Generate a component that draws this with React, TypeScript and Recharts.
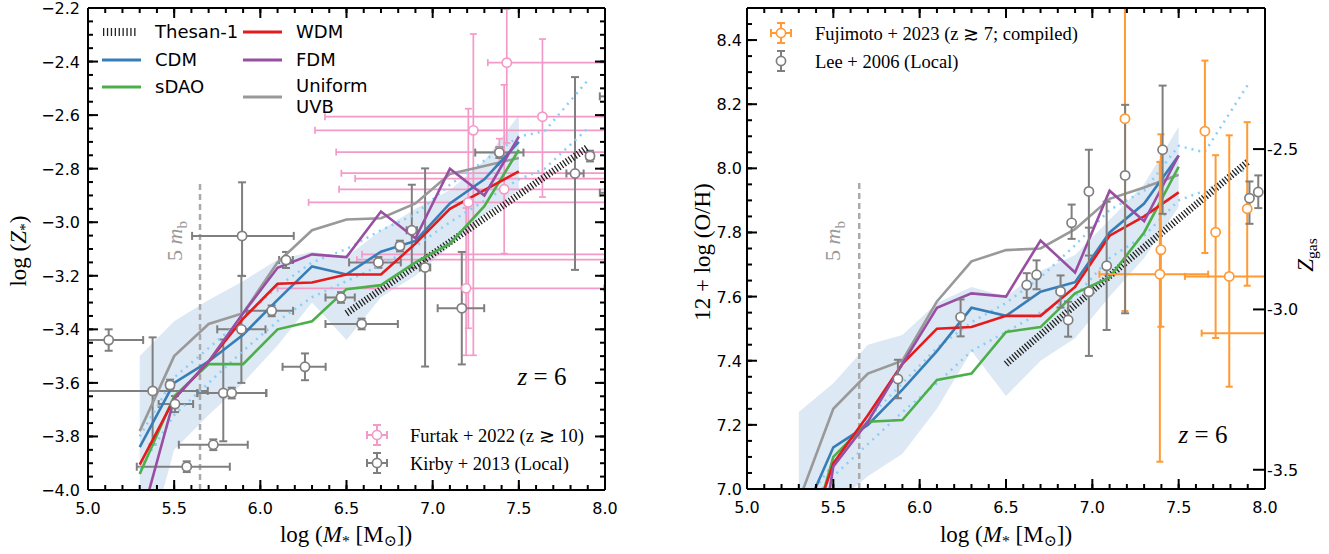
import React from 'react';
import { ComposedChart, Line, Area, Scatter, ErrorBar, XAxis, YAxis, ReferenceLine } from 'recharts';

// simulation medians, binned in log stellar mass
const MASS = [5.3, 5.5, 5.7, 5.9, 6.1, 6.3, 6.5, 6.7, 6.9, 7.1, 7.3, 7.5];

// left panel: log(Z*)
const STAR_CDM = [-3.84, -3.6, -3.52, -3.42, -3.29, -3.165, -3.195, -3.11, -3.07, -2.93, -2.84, -2.7];
const STAR_SDAO = [-3.94, -3.65, -3.53, -3.53, -3.4, -3.37, -3.25, -3.235, -3.15, -3.08, -2.94, -2.73];
const STAR_WDM = [-3.905, -3.66, -3.52, -3.36, -3.23, -3.225, -3.195, -3.195, -3.08, -2.95, -2.88, -2.81];
const STAR_FDM = [-4.13, -3.66, -3.52, -3.34, -3.17, -3.12, -3.13, -2.96, -3.06, -2.8, -2.9, -2.68];
const STAR_UVB = [-3.78, -3.5, -3.38, -3.34, -3.15, -3.03, -2.99, -2.985, -2.93, -2.82, -2.79, -2.76];
const STAR_BAND_LO = [-4.32, -3.85, -3.72, -3.6, -3.46, -3.3, -3.44, -3.28, -3.2, -3.09, -2.97, -2.88];
const STAR_BAND_HI = [-3.5, -3.37, -3.29, -3.22, -3.14, -3.11, -3.13, -3.03, -2.95, -2.88, -2.77, -2.6];

// right panel: 12 + log(O/H)
const GAS_CDM = [6.885, 7.13, 7.2, 7.31, 7.43, 7.565, 7.54, 7.615, 7.645, 7.8, 7.89, 8.04];
const GAS_SDAO = [6.72, 7.1, 7.21, 7.215, 7.34, 7.36, 7.49, 7.505, 7.61, 7.66, 7.8, 8.005];
const GAS_WDM = [6.76, 7.08, 7.23, 7.39, 7.5, 7.505, 7.54, 7.54, 7.63, 7.79, 7.85, 7.925];
const GAS_FDM = [6.4, 7.07, 7.21, 7.39, 7.565, 7.61, 7.6, 7.775, 7.675, 7.93, 7.835, 8.04];
const GAS_UVB = [6.963, 7.25, 7.36, 7.4, 7.585, 7.71, 7.745, 7.75, 7.81, 7.905, 7.94, 7.98];
const GAS_BAND_LO = [6.7, 6.95, 7.04, 7.11, 7.25, 7.43, 7.29, 7.4, 7.47, 7.6, 7.72, 7.88];
const GAS_BAND_HI = [7.24, 7.33, 7.45, 7.48, 7.58, 7.63, 7.6, 7.68, 7.73, 7.84, 7.95, 8.13];

// dotted percentile lines
const DOT_MASS = [5.3, 5.5, 5.7, 5.9, 6.1, 6.3, 6.5, 6.7, 6.9, 7.1, 7.3, 7.5, 7.65, 7.9];
const STAR_DOT_HI = [-3.8, -3.58, -3.47, -3.36, -3.24, -3.15, -3.1, -3.03, -2.97, -2.86, -2.77, -2.68, -2.66, -2.47];
const STAR_DOT_LO = [-3.92, -3.72, -3.6, -3.48, -3.37, -3.28, -3.22, -3.16, -3.09, -3.0, -2.92, -2.84, -2.8, -2.65];
const GAS_DOT_HI = [6.93, 7.08, 7.22, 7.33, 7.44, 7.52, 7.58, 7.66, 7.76, 7.87, 7.93, 8.07, 8.05, 8.26];
const GAS_DOT_LO = [6.92, 7.04, 7.14, 7.24, 7.33, 7.43, 7.49, 7.55, 7.6, 7.72, 7.79, 7.9, 7.93, 8.0];

// Thesan-1
const THESAN_MASS = [6.5, 7.2, 7.9];
const STAR_THESAN = [-3.34, -3.03, -2.72];
const GAS_THESAN = [7.39, 7.71, 8.02];

// Kirby+2013 (Local)
const KIRBY_X = [5.12, 5.375, 5.476, 5.505, 5.573, 5.727, 5.785, 5.834, 5.894, 5.89, 6.066, 6.149, 6.259, 6.468, 6.588, 6.685, 6.81, 6.879, 6.956, 7.169, 7.387, 7.826, 7.913, 8.06, 8.06];
const KIRBY_Y = [-3.44, -3.63, -3.608, -3.679, -3.913, -3.831, -3.638, -3.638, -3.051, -3.4, -3.331, -3.141, -3.54, -3.281, -3.38, -3.15, -3.089, -3.03, -3.169, -3.321, -2.74, -2.818, -2.753, -2.53, -2.89];
const KIRBY_XERR = [[0.15, 0.2], [0.45, 0.32], [0.02, 0.02], [0.095, 0.105], [0.29, 0.25], [0.2, 0.2], [0.15, 0.25], [0.2, 0.2], [0.29, 0.3], [0.14, 0.14], [0.146, 0.124], [0.04, 0.04], [0.13, 0.12], [0.09, 0.08], [0.21, 0.21], [0.17, 0.13], [0.02, 0.02], [0.03, 0.03], [0.03, 0.03], [0.14, 0.13], [0.14, 0.14], [0.05, 0.05], [0.02, 0.02], [0.09, 0.05], [0.09, 0.05]];
const KIRBY_YERR = [[0.04, 0.04], [0.2, 0.2], [0.02, 0.02], [0.03, 0.03], [0.02, 0.02], [0.02, 0.02], [0.18, 0.2], [0.02, 0.02], [0.15, 0.2], [0.2, 0.2], [0.02, 0.02], [0.03, 0.03], [0.05, 0.05], [0.02, 0.02], [0.02, 0.02], [0.02, 0.02], [0.02, 0.02], [0.14, 0.17], [0.37, 0.37], [0.21, 0.21], [0.02, 0.02], [0.36, 0.36], [0.02, 0.02], [0.03, 0.03], [0.03, 0.03]];

// Furtak+2022 (z >~ 10)
const FURTAK_X = [7.43, 7.637, 7.236, 7.415, 7.194, 7.207, 7.387, 8.1, 8.1, 8.1, 8.1];
const FURTAK_Y = [-2.404, -2.606, -2.657, -2.877, -3.247, -2.926, -2.738, -2.817, -2.837, -3.12, -3.14];
const FURTAK_XERR = [[0.11, 0.7], [1.262, 0.5], [0.919, 0.8], [0.958, 0.6], [1.094, 0.8], [0.927, 0.8], [0.947, 0.7], [1.63, 0.1], [1.55, 0.1], [1.51, 0.1], [1.54, 0.1]];
const FURTAK_YERR = [[0.3, 0.2], [0.3, 0.29], [0.84, 0.36], [0.24, 0.39], [0.25, 0.3], [0.47, 0.35], [0.05, 0.05], [0.05, 0.05], [0.05, 0.05], [0.05, 0.05], [0.05, 0.05]];

// Lee+2006 (Local)
const LEE_X = [5.874, 6.237, 6.62, 6.677, 6.816, 6.86, 6.88, 6.98, 6.98, 7.083, 7.19, 7.407, 7.91, 7.961];
const LEE_Y = [7.343, 7.536, 7.636, 7.668, 7.616, 7.527, 7.83, 7.928, 7.615, 7.696, 7.978, 8.058, 7.907, 7.926];
const LEE_YERR = [[0.06, 0.06], [0.06, 0.055], [0.04, 0.037], [0.045, 0.045], [0.05, 0.05], [0.052, 0.057], [0.05, 0.057], [0.2, 0.13], [0.2, 0.2], [0.2, 0.2], [0.43, 0.22], [0.2, 0.2], [0.08, 0.052], [0.05, 0.052]];

// Fujimoto+2023 (z >~ 7; compiled)
const FUJI_X = [7.189, 7.397, 7.391, 7.652, 7.714, 7.793, 7.897, 8.15];
const FUJI_Y = [8.155, 7.746, 7.67, 8.116, 7.801, 7.663, 7.874, 7.486];
const FUJI_XERR = [null, null, [0.35, 0.28], null, null, [0.257, 0.4], null, [0.517, 0.1]];
const FUJI_YERR = [[0.6, 0.5], [0.24, 0.36], [0.585, 0.35], [0.38, 0.22], [0.33, 0.24], [0.344, 0.44], [0.24, 0.27], null];

// ticks
const X_TICKS = [5.0, 5.5, 6.0, 6.5, 7.0, 7.5, 8.0];
const STAR_TICKS = [-4.0, -3.8, -3.6, -3.4, -3.2, -3.0, -2.8, -2.6, -2.4, -2.2];
const GAS_TICKS = [7.0, 7.2, 7.4, 7.6, 7.8, 8.0, 8.2, 8.4];
const ZGAS_TICKS = [-3.5, -3.0, -2.5];

const X_DOM = [5, 8];
const STAR_DOM = [-4.0, -2.2];
const GAS_DOM = [7.0, 8.5];
const ZGAS_DOM = [-3.56, -2.06];

const steps = (a: number, b: number, s: number) => {
  const out: number[] = [];
  for (let v = a; v <= b + 1e-9; v += s) out.push(Math.round(v * 1000) / 1000);
  return out;
};
const X_MINOR = steps(5.1, 7.9, 0.1);
const STAR_MINOR = steps(-3.95, -2.25, 0.05);
const GAS_MINOR = steps(7.05, 8.45, 0.05);

const C = {
  cdm: '#377eb8', sdao: '#4daf4a', wdm: '#e41a1c', fdm: '#984ea3', uvb: '#999999',
  band: '#dce8f3', dot: '#87cefa', gray: '#7f7f7f', pink: '#f49ac9', orange: '#ff9a35',
};

const SANS = 'DejaVu Sans, sans-serif';
const SERIF = 'Liberation Serif, DejaVu Serif, serif';

const pts = (xs: number[], ys: number[]) => xs.map((x, i) => ({ x, y: ys[i] }));
const bandPts = (xs: number[], lo: number[], hi: number[]) => xs.map((x, i) => ({ x, range: [lo[i], hi[i]] }));

// error bars are cut at the panel edges (Scatter is not clipped), markers outside are hidden
const cut = (v: number, e: number[] | null, d: number[]) =>
  e ? [Math.min(e[0], v - d[0]), Math.min(e[1], d[1] - v)] : null;
const obs = (xs: number[], ys: number[], ex: (number[] | null)[] | null, ey: (number[] | null)[], yDom: number[]) =>
  xs.map((x, i) => {
    const out = x > X_DOM[1] || x < X_DOM[0] || ys[i] > yDom[1] || ys[i] < yDom[0];
    return {
      x,
      y: ys[i],
      out,
      ex: ex ? cut(x, ex[i], X_DOM) : null,
      ey: out ? null : cut(ys[i], ey[i], yDom),
    };
  });

const ring = (color: string) => (p: any) =>
  p.payload && p.payload.out ? <g /> : <circle cx={p.cx} cy={p.cy} r={4.6} fill="#fff" stroke={color} strokeWidth={1.7} />;

const frame = { stroke: '#000', strokeWidth: 2 };
const txtStyle = { fontSize: 16, fill: '#000', fontFamily: SANS };

// tick labels from the axes
type Side = 'bottom' | 'left' | 'right';
const labelMaker = (side: Side, fmt: (v: number) => string, gap = 8) => (p: any) => {
  const v = p.payload.value;
  if (side === 'bottom') return <text x={p.x} y={p.y + 24} textAnchor="middle" {...txtStyle}>{fmt(v)}</text>;
  if (side === 'left') return <text x={p.x - gap} y={p.y + 6} textAnchor="end" {...txtStyle}>{fmt(v)}</text>;
  return <text x={p.x + gap} y={p.y + 6} textAnchor="start" {...txtStyle}>{fmt(v)}</text>;
};

const common = { type: 'number' as const, allowDataOverflow: true, interval: 0 as const, tickSize: 0, tickMargin: 0, tickLine: false, axisLine: frame };

// inward tick marks: points on the frame, each drawn as a short stroke pointing into the panel
type TickPt = { x: number; y: number; dx: number; dy: number; len: number };
function tickPoints(xMajor: number[], xMinor: number[], yMajor: number[], yMinor: number[], yDom: number[], withRight: boolean) {
  const out: TickPt[] = [];
  xMajor.concat(xMinor).forEach((v, i) => {
    const len = i < xMajor.length ? 10 : 5;
    out.push({ x: v, y: yDom[0], dx: 0, dy: -1, len });
    out.push({ x: v, y: yDom[1], dx: 0, dy: 1, len });
  });
  yMajor.concat(yMinor).forEach((v, i) => {
    const len = i < yMajor.length ? 10 : 5;
    out.push({ x: X_DOM[0], y: v, dx: 1, dy: 0, len });
    if (withRight) out.push({ x: X_DOM[1], y: v, dx: -1, dy: 0, len });
  });
  return out;
}
const tickShape = (p: any) => {
  const t = p.payload as TickPt;
  return <line x1={p.cx} y1={p.cy} x2={p.cx + t.dx * t.len} y2={p.cy + t.dy * t.len} stroke="#000" strokeWidth={2} />;
};

const fmtMinus = (v: number) => v.toFixed(1).replace('-', '\u2212');
const fmt1 = (v: number) => v.toFixed(1);

function modelLines(prefix: string, vals: number[][]) {
  const cols = [C.uvb, C.cdm, C.sdao, C.wdm, C.fdm];
  return vals.map((v, i) => (
    <Line key={prefix + i} data={pts(MASS, v)} dataKey="y" type="linear" stroke={cols[i]} strokeWidth={2.6} dot={false} isAnimationActive={false} />
  ));
}

function LeftPanel() {
  return (
    <ComposedChart width={640} height={554} margin={{ top: 7, right: 34, bottom: 63, left: 87 }}>
      <XAxis xAxisId={0} dataKey="x" domain={X_DOM} ticks={X_TICKS} height={1} tick={labelMaker('bottom', fmt1)} {...common} />
      <XAxis xAxisId="top" orientation="top" dataKey="x" domain={X_DOM} ticks={X_TICKS} height={1} tick={false} {...common} />
      <YAxis yAxisId={0} domain={STAR_DOM} ticks={STAR_TICKS} width={1} tick={labelMaker('left', fmtMinus)} {...common} />
      <YAxis yAxisId="right" orientation="right" domain={STAR_DOM} ticks={STAR_TICKS} width={1} tick={false} {...common} />
      <Area data={bandPts(MASS, STAR_BAND_LO, STAR_BAND_HI)} dataKey="range" type="linear" stroke="none" fill={C.band} fillOpacity={1} isAnimationActive={false} />
      <ReferenceLine segment={[{ x: 5.65, y: -4.0 }, { x: 5.65, y: -2.852 }]} stroke="#aaaaaa" strokeWidth={2.5} strokeDasharray="6 4" />
      <Scatter data={obs(FURTAK_X, FURTAK_Y, FURTAK_XERR, FURTAK_YERR, STAR_DOM)} dataKey="y" shape={ring(C.pink)} isAnimationActive={false}>
        <ErrorBar dataKey="ex" direction="x" width={3.5} stroke={C.pink} strokeWidth={1.7} isAnimationActive={false} />
        <ErrorBar dataKey="ey" direction="y" width={3.5} stroke={C.pink} strokeWidth={1.7} isAnimationActive={false} />
      </Scatter>
      <Scatter data={obs(KIRBY_X, KIRBY_Y, KIRBY_XERR, KIRBY_YERR, STAR_DOM)} dataKey="y" shape={ring(C.gray)} isAnimationActive={false}>
        <ErrorBar dataKey="ex" direction="x" width={4} stroke={C.gray} strokeWidth={2} isAnimationActive={false} />
        <ErrorBar dataKey="ey" direction="y" width={4} stroke={C.gray} strokeWidth={2} isAnimationActive={false} />
      </Scatter>
      <Line data={pts(DOT_MASS, STAR_DOT_HI)} dataKey="y" type="linear" stroke={C.dot} strokeWidth={2.5} strokeDasharray="2 5" dot={false} isAnimationActive={false} />
      <Line data={pts(DOT_MASS, STAR_DOT_LO)} dataKey="y" type="linear" stroke={C.dot} strokeWidth={2.5} strokeDasharray="2 5" dot={false} isAnimationActive={false} />
      <Line data={pts(THESAN_MASS, STAR_THESAN)} dataKey="y" type="linear" stroke="#222" strokeWidth={7} strokeDasharray="1.3 2" dot={false} isAnimationActive={false} />
      {modelLines('L', [STAR_UVB, STAR_CDM, STAR_SDAO, STAR_WDM, STAR_FDM])}
      <Scatter data={tickPoints(X_TICKS, X_MINOR, STAR_TICKS, STAR_MINOR, STAR_DOM, true)} dataKey="y" shape={tickShape} isAnimationActive={false} />
    </ComposedChart>
  );
}

function RightPanel() {
  return (
    <ComposedChart width={629} height={554} margin={{ top: 7, right: 63, bottom: 64, left: 46 }}>
      <XAxis xAxisId={0} dataKey="x" domain={X_DOM} ticks={X_TICKS} height={1} tick={labelMaker('bottom', fmt1)} {...common} />
      <XAxis xAxisId="top" orientation="top" dataKey="x" domain={X_DOM} ticks={X_TICKS} height={1} tick={false} {...common} />
      <YAxis yAxisId={0} domain={GAS_DOM} ticks={GAS_TICKS} width={1} tick={labelMaker('left', fmt1, 5)} {...common} />
      <YAxis yAxisId="gas" orientation="right" domain={ZGAS_DOM} ticks={ZGAS_TICKS} width={1} tick={labelMaker('right', fmt1, 2)} {...common} />
      <Area data={bandPts(MASS, GAS_BAND_LO, GAS_BAND_HI)} dataKey="range" type="linear" stroke="none" fill={C.band} fillOpacity={1} isAnimationActive={false} />
      <ReferenceLine segment={[{ x: 5.65, y: 7.0 }, { x: 5.65, y: 7.955 }]} stroke="#aaaaaa" strokeWidth={2.5} strokeDasharray="6 4" />
      <Line data={pts(DOT_MASS, GAS_DOT_HI)} dataKey="y" type="linear" stroke={C.dot} strokeWidth={2.5} strokeDasharray="2 5" dot={false} isAnimationActive={false} />
      <Line data={pts(DOT_MASS, GAS_DOT_LO)} dataKey="y" type="linear" stroke={C.dot} strokeWidth={2.5} strokeDasharray="2 5" dot={false} isAnimationActive={false} />
      <Line data={pts(THESAN_MASS, GAS_THESAN)} dataKey="y" type="linear" stroke="#222" strokeWidth={7} strokeDasharray="1.3 2" dot={false} isAnimationActive={false} />
      {modelLines('R', [GAS_UVB, GAS_CDM, GAS_SDAO, GAS_WDM, GAS_FDM])}
      <Scatter data={obs(FUJI_X, FUJI_Y, FUJI_XERR, FUJI_YERR, GAS_DOM)} dataKey="y" shape={ring(C.orange)} isAnimationActive={false}>
        <ErrorBar dataKey="ex" direction="x" width={3.5} stroke={C.orange} strokeWidth={2} isAnimationActive={false} />
        <ErrorBar dataKey="ey" direction="y" width={3.5} stroke={C.orange} strokeWidth={2} isAnimationActive={false} />
      </Scatter>
      <Scatter data={obs(LEE_X, LEE_Y, null, LEE_YERR, GAS_DOM)} dataKey="y" shape={ring(C.gray)} isAnimationActive={false}>
        <ErrorBar dataKey="ey" direction="y" width={4} stroke={C.gray} strokeWidth={2} isAnimationActive={false} />
      </Scatter>
      <Scatter data={tickPoints(X_TICKS, X_MINOR, GAS_TICKS, GAS_MINOR, GAS_DOM, false)} dataKey="y" shape={tickShape} isAnimationActive={false} />
      <Scatter yAxisId="gas" data={ZGAS_TICKS.map((v) => ({ x: X_DOM[1], y: v, dx: -1, dy: 0, len: 12 }))} dataKey="y" shape={tickShape} isAnimationActive={false} />
    </ComposedChart>
  );
}

type TxtProps = { x: number; y: number; size: number; font?: string; color?: string; rot?: boolean; center?: boolean; children: React.ReactNode };
function Txt({ x, y, size, font = SERIF, color = '#000', rot = false, center = false, children }: TxtProps) {
  const tf = rot ? 'translate(-50%,-50%) rotate(-90deg)' : center ? 'translate(-50%,-50%)' : 'translate(0,-50%)';
  return (
    <div style={{ position: 'absolute', left: x, top: y, transform: tf, fontSize: size, fontFamily: font, color, whiteSpace: 'nowrap', lineHeight: 1 }}>
      {children}
    </div>
  );
}
const Sub = ({ children }: { children: React.ReactNode }) => (
  <span style={{ fontSize: '0.68em', verticalAlign: '-0.28em' }}>{children}</span>
);

function LineKey({ x, y, color, hatch = false }: { x: number; y: number; color: string; hatch?: boolean }) {
  return (
    <svg width={40} height={12} style={{ position: 'absolute', left: x, top: y - 6 }}>
      <line x1={0} y1={6} x2={hatch ? 34 : 39} y2={6} stroke={color} strokeWidth={hatch ? 8 : 2.8} strokeDasharray={hatch ? '1.3 2.6' : undefined} />
    </svg>
  );
}

function MarkKey({ x, y, color, xbar = true }: { x: number; y: number; color: string; xbar?: boolean }) {
  return (
    <svg width={30} height={26} style={{ position: 'absolute', left: x - 15, top: y - 13 }}>
      {xbar && <line x1={5} y1={13} x2={25} y2={13} stroke={color} strokeWidth={2} />}
      {xbar && <line x1={5} y1={9} x2={5} y2={17} stroke={color} strokeWidth={2} />}
      {xbar && <line x1={25} y1={9} x2={25} y2={17} stroke={color} strokeWidth={2} />}
      <line x1={15} y1={3} x2={15} y2={23} stroke={color} strokeWidth={2} />
      <line x1={11} y1={3} x2={19} y2={3} stroke={color} strokeWidth={2} />
      <line x1={11} y1={23} x2={19} y2={23} stroke={color} strokeWidth={2} />
      <circle cx={15} cy={13} r={4.6} fill="#fff" stroke={color} strokeWidth={1.7} />
    </svg>
  );
}

const massLabel = (
  <>log (<i>M</i><Sub>*</Sub> [M<Sub>{'\u2299'}</Sub>])</>
);

export default function App() {
  return (
    <div style={{ position: 'absolute', left: 0, top: 0, width: 1329, height: 554, background: '#fff', overflow: 'hidden' }}>
      <div style={{ position: 'absolute', left: 0, top: 0 }}>
        <LeftPanel />
      </div>
      <div style={{ position: 'absolute', left: 700, top: 0 }}>
        <RightPanel />
      </div>

      {/* left legend: models */}
      <LineKey x={103} y={32} color="#222" hatch />
      <Txt x={155} y={32} size={18} font={SANS}>Thesan-1</Txt>
      <LineKey x={102} y={60} color={C.cdm} />
      <Txt x={155} y={60} size={18} font={SANS}>CDM</Txt>
      <LineKey x={102} y={87} color={C.sdao} />
      <Txt x={155} y={87} size={18} font={SANS}>sDAO</Txt>
      <LineKey x={243} y={32} color={C.wdm} />
      <Txt x={296} y={32} size={18} font={SANS}>WDM</Txt>
      <LineKey x={243} y={60} color={C.fdm} />
      <Txt x={296} y={60} size={18} font={SANS}>FDM</Txt>
      <LineKey x={243} y={97} color={C.uvb} />
      <Txt x={296} y={86} size={18} font={SANS}>Uniform</Txt>
      <Txt x={296} y={107} size={18} font={SANS}>UVB</Txt>

      {/* left legend: observations */}
      <MarkKey x={377} y={435} color={C.pink} />
      <Txt x={410} y={436} size={18.5}>Furtak + 2022 (z {'\u2273'} 10)</Txt>
      <MarkKey x={377} y={463} color={C.gray} />
      <Txt x={410} y={464} size={18.5}>Kirby + 2013 (Local)</Txt>

      {/* right legend */}
      <MarkKey x={781} y={33} color={C.orange} />
      <Txt x={815} y={34} size={18.5}>Fujimoto + 2023 (z {'\u2273'} 7;  compiled)</Txt>
      <MarkKey x={781} y={61} color={C.gray} xbar={false} />
      <Txt x={815} y={62} size={18.5}>Lee + 2006 (Local)</Txt>

      {/* annotations */}
      <Txt x={542} y={376} size={25} center><i>z</i> = 6</Txt>
      <Txt x={1203} y={434} size={25} center><i>z</i> = 6</Txt>
      <Txt x={177} y={241} size={22} color="#999" rot>5 <i>m</i><Sub>b</Sub></Txt>
      <Txt x={835} y={241} size={22} color="#999" rot>5 <i>m</i><Sub>b</Sub></Txt>

      {/* axis titles */}
      <Txt x={346} y={536} size={23} center>{massLabel}</Txt>
      <Txt x={1006} y={536} size={23} center>{massLabel}</Txt>
      <Txt x={20} y={251} size={23} rot>log (<i>Z</i><Sub>*</Sub>)</Txt>
      <Txt x={702} y={252} size={23} rot>12 + log (O/H)</Txt>
      <Txt x={1307} y={255} size={23} rot><i>Z</i><Sub>gas</Sub></Txt>
    </div>
  );
}
